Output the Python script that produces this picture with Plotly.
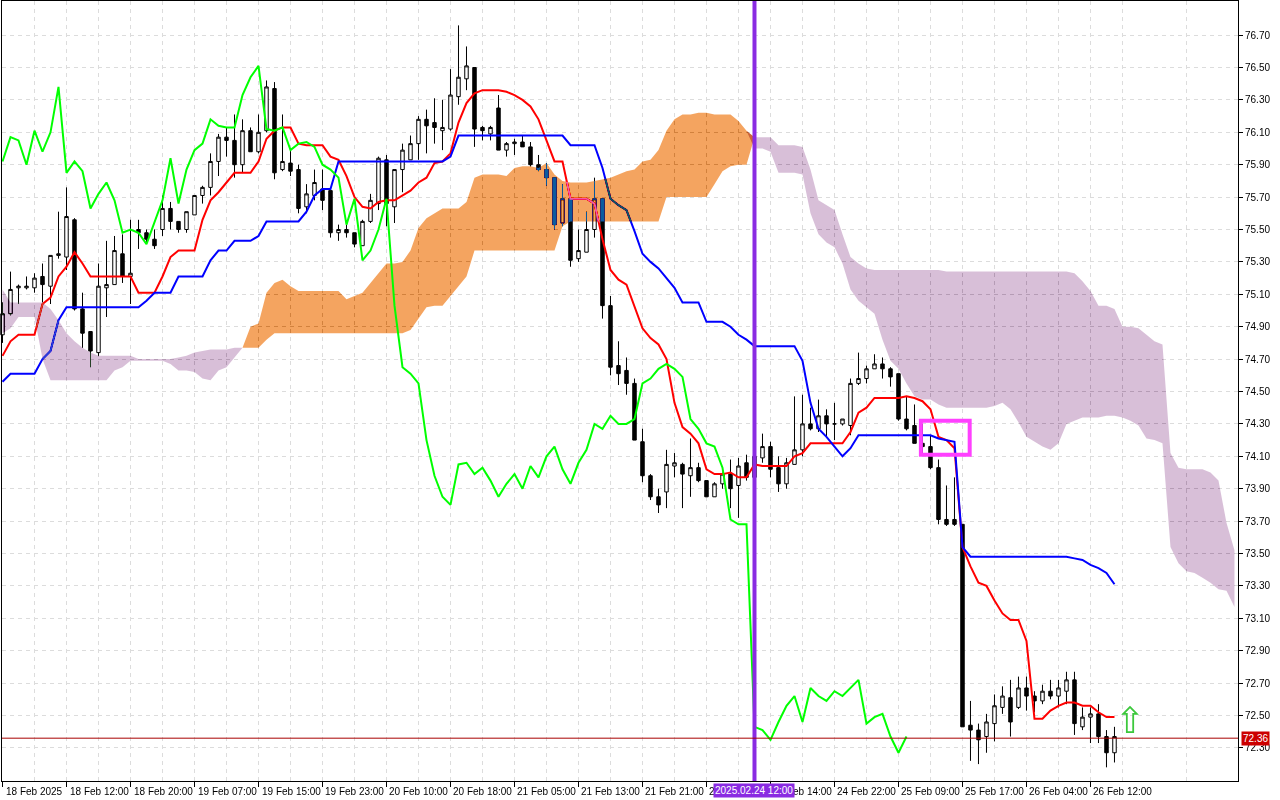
import plotly.graph_objects as go

# hourly bars, bar 0 = 18 Feb 2025 04:00 (x axis is the bar number)
opens = [
    74.85, 74.98, 75.14, 75.14, 75.14, 75.21, 75.15, 75.34, 75.33, 75.56,
    75.01, 74.87, 74.74, 75.14, 75.16, 75.35, 75.21, 75.50, 75.48, 75.44,
    75.50, 75.63, 75.55, 75.50, 75.59, 75.71, 75.76, 75.92, 76.07, 76.05,
    75.90, 76.11, 75.98, 76.11, 76.37, 75.87, 75.91, 75.87, 75.64, 75.71,
    75.75, 75.74, 75.48, 75.50, 75.48, 75.40, 75.55, 75.66, 75.93, 75.64,
    75.87, 75.93, 76.03, 76.18, 76.16, 76.11, 76.12, 76.32, 76.43, 76.50,
    76.13, 76.09, 76.25, 75.99, 76.03, 76.04, 76.01, 75.90, 75.87, 75.82,
    75.54, 75.69, 75.32, 75.36, 75.50, 75.69, 75.03, 74.66, 74.63, 74.55,
    74.19, 73.98, 73.85, 73.88, 74.04, 74.05, 73.98, 74.03, 73.95, 73.85,
    73.93, 73.99, 73.92, 74.06, 73.97, 74.09, 74.16, 74.03, 73.93, 74.05,
    74.14, 74.30, 74.27, 74.35, 74.30, 74.30, 74.29, 74.55, 74.58, 74.64,
    74.67, 74.64, 74.61, 74.33, 74.29, 74.18, 74.16, 74.03, 73.71, 73.71,
    73.68, 72.44, 72.41, 72.37, 72.45, 72.55, 72.61, 72.55, 72.67, 72.62,
    72.59, 72.65, 72.62, 72.65, 72.72, 72.43, 72.49, 72.51, 72.37, 72.27,
]
highs = [
    75.05, 75.24, 75.16, 75.21, 75.23, 75.29, 75.34, 75.61, 75.76, 75.57,
    75.11, 74.87, 75.29, 75.43, 75.46, 75.47, 75.56, 75.56, 75.50, 75.50,
    75.71, 75.67, 75.55, 75.61, 75.71, 75.77, 75.97, 76.09, 76.13, 76.21,
    76.18, 76.13, 76.21, 76.42, 76.41, 76.21, 75.99, 75.90, 75.78, 75.87,
    75.87, 75.74, 75.53, 75.53, 75.48, 75.56, 75.72, 75.95, 75.96, 75.87,
    76.03, 76.08, 76.20, 76.24, 76.31, 76.30, 76.49, 76.76, 76.63, 76.50,
    76.14, 76.14, 76.33, 76.04, 76.06, 76.08, 76.04, 75.96, 75.91, 75.82,
    75.78, 75.69, 75.50, 75.61, 75.82, 75.69, 75.09, 74.81, 74.71, 74.58,
    74.27, 73.99, 73.90, 74.14, 74.12, 74.06, 74.21, 74.06, 73.95, 73.94,
    74.00, 74.08, 74.09, 74.11, 74.15, 74.24, 74.19, 74.10, 74.09, 74.47,
    74.48, 74.40, 74.45, 74.39, 74.43, 74.33, 74.58, 74.74, 74.66, 74.73,
    74.71, 74.65, 74.61, 74.47, 74.42, 74.30, 74.23, 74.08, 73.92, 73.97,
    73.68, 72.59, 72.45, 72.51, 72.63, 72.68, 72.72, 72.74, 72.74, 72.65,
    72.69, 72.72, 72.72, 72.77, 72.77, 72.55, 72.55, 72.57, 72.41, 72.43,
]
lows = [
    74.80, 74.97, 75.04, 75.13, 75.11, 75.05, 75.04, 75.32, 75.25, 75.00,
    74.77, 74.65, 74.72, 74.96, 75.16, 75.17, 75.04, 75.38, 75.42, 75.38,
    75.46, 75.50, 75.48, 75.48, 75.59, 75.66, 75.71, 75.83, 75.95, 75.82,
    75.85, 75.98, 75.97, 76.10, 75.81, 75.86, 75.83, 75.60, 75.60, 75.68,
    75.62, 75.45, 75.43, 75.45, 75.39, 75.40, 75.54, 75.62, 75.52, 75.54,
    75.73, 75.93, 75.93, 75.97, 76.03, 75.99, 76.11, 76.27, 76.36, 76.01,
    76.05, 76.05, 75.99, 75.95, 75.96, 76.01, 75.89, 75.86, 75.77, 75.50,
    75.52, 75.27, 75.30, 75.36, 75.45, 74.95, 74.60, 74.54, 74.48, 74.20,
    73.94, 73.83, 73.75, 73.78, 73.97, 73.78, 73.85, 73.94, 73.85, 73.85,
    73.90, 73.78, 73.72, 73.95, 73.95, 74.06, 73.97, 73.88, 73.90, 74.05,
    74.10, 74.26, 74.25, 74.22, 74.20, 74.29, 74.23, 74.54, 74.55, 74.64,
    74.58, 74.53, 74.32, 74.26, 74.18, 74.12, 74.02, 73.68, 73.67, 73.67,
    72.43, 72.22, 72.20, 72.27, 72.34, 72.51, 72.37, 72.54, 72.53, 72.52,
    72.57, 72.60, 72.55, 72.57, 72.38, 72.41, 72.33, 72.33, 72.18, 72.21,
]
closes = [
    74.98, 75.13, 75.15, 75.15, 75.20, 75.16, 75.34, 75.35, 75.58, 75.01,
    74.86, 74.75, 75.15, 75.16, 75.37, 75.21, 75.23, 75.48, 75.44, 75.40,
    75.63, 75.55, 75.50, 75.61, 75.71, 75.76, 75.92, 76.07, 76.05, 75.90,
    76.11, 75.98, 76.10, 76.38, 75.85, 75.92, 75.86, 75.63, 75.72, 75.79,
    75.68, 75.48, 75.50, 75.48, 75.41, 75.55, 75.68, 75.94, 75.66, 75.87,
    75.99, 76.03, 76.18, 76.14, 76.13, 76.13, 76.33, 76.44, 76.51, 76.12,
    76.11, 76.13, 75.99, 76.03, 76.04, 76.01, 75.90, 75.87, 75.82, 75.53,
    75.69, 75.31, 75.37, 75.50, 75.69, 75.03, 74.65, 74.61, 74.55, 74.20,
    73.98, 73.85, 73.80, 74.05, 74.06, 73.99, 74.03, 73.95, 73.85, 73.93,
    73.99, 73.90, 74.04, 73.97, 74.10, 74.16, 74.02, 73.93, 74.06, 74.14,
    74.30, 74.27, 74.35, 74.30, 74.30, 74.33, 74.55, 74.58, 74.64, 74.67,
    74.64, 74.59, 74.33, 74.27, 74.18, 74.16, 74.03, 73.71, 73.68, 73.68,
    72.43, 72.41, 72.35, 72.46, 72.56, 72.62, 72.46, 72.67, 72.62, 72.59,
    72.65, 72.62, 72.67, 72.72, 72.45, 72.49, 72.51, 72.37, 72.27, 72.37,
]

tenkan = [
    74.72, 74.81, 74.85, 74.85, 74.85, 75.04, 75.08, 75.21, 75.27, 75.36,
    75.29, 75.21, 75.21, 75.21, 75.21, 75.21, 75.21, 75.11, 75.11, 75.11,
    75.21, 75.33, 75.37, 75.37, 75.37, 75.56, 75.68, 75.73, 75.79, 75.85,
    75.85, 75.85, 75.92, 76.06, 76.11, 76.13, 76.13, 76.03, 76.02, 76.02,
    76.02, 75.95, 75.93, 75.83, 75.70, 75.64, 75.63, 75.67, 75.68, 75.68,
    75.71, 75.74, 75.79, 75.82, 75.91, 75.92, 75.97, 76.16, 76.28, 76.34,
    76.36, 76.36, 76.36, 76.35, 76.33, 76.30, 76.26, 76.18, 76.05, 75.92,
    75.92, 75.69, 75.69, 75.69, 75.66, 75.44, 75.25, 75.19, 75.16, 75.02,
    74.89, 74.83, 74.79, 74.70, 74.43, 74.28, 74.24, 74.18, 74.02, 73.99,
    73.99, 74.00, 73.97, 73.97, 74.05, 74.04, 74.04, 74.04, 74.04, 74.10,
    74.12, 74.18, 74.18, 74.18, 74.18, 74.18, 74.25, 74.37, 74.40, 74.46,
    74.46, 74.46, 74.46, 74.47, 74.46, 74.44, 74.39, 74.22, 74.20, 74.15,
    73.54, 73.42, 73.32, 73.30, 73.21, 73.13, 73.09, 73.09, 72.96, 72.48,
    72.48, 72.53, 72.56, 72.58, 72.58, 72.56, 72.56, 72.52, 72.49, 72.49,
]
kijun = [
    74.56, 74.61, 74.61, 74.61, 74.61, 74.70, 74.75, 74.94, 75.02, 75.02,
    75.02, 75.02, 75.02, 75.02, 75.02, 75.02, 75.02, 75.02, 75.06, 75.11,
    75.11, 75.11, 75.21, 75.21, 75.21, 75.21, 75.31, 75.37, 75.37, 75.43,
    75.43, 75.43, 75.46, 75.55, 75.55, 75.55, 75.55, 75.55, 75.61, 75.71,
    75.75, 75.75, 75.92, 75.92, 75.92, 75.92, 75.92, 75.92, 75.92, 75.92,
    75.92, 75.92, 75.92, 75.92, 75.92, 75.92, 75.95, 76.08, 76.08, 76.08,
    76.08, 76.08, 76.08, 76.08, 76.08, 76.08, 76.08, 76.08, 76.08, 76.08,
    76.08, 76.02, 76.02, 76.02, 76.02, 75.88, 75.69, 75.65, 75.62, 75.49,
    75.35, 75.30, 75.26, 75.20, 75.14, 75.05, 75.05, 75.05, 74.93, 74.93,
    74.93, 74.90, 74.85, 74.82, 74.78, 74.78, 74.78, 74.78, 74.78, 74.78,
    74.69, 74.43, 74.27, 74.22, 74.16, 74.10, 74.15, 74.23, 74.23, 74.23,
    74.23, 74.23, 74.23, 74.23, 74.23, 74.23, 74.23, 74.21, 74.20, 74.19,
    73.54, 73.48, 73.48, 73.48, 73.48, 73.48, 73.48, 73.48, 73.48, 73.48,
    73.48, 73.48, 73.48, 73.48, 73.47, 73.46, 73.43, 73.41, 73.38, 73.31,
]

# senkou spans as plotted (already shifted 26 bars ahead), bars 0..154
span_a = [
    74.86, 74.89, 74.96, 74.96, 74.96, 74.70, 74.57, 74.57, 74.57, 74.57,
    74.57, 74.57, 74.57, 74.57, 74.63, 74.65, 74.69, 74.69, 74.69, 74.69,
    74.69, 74.67, 74.63, 74.63, 74.62, 74.58, 74.57, 74.63, 74.65, 74.71,
    74.77, 74.90, 74.92, 75.11, 75.17, 75.19, 75.15, 75.12, 75.12, 75.12,
    75.12, 75.12, 75.12, 75.07, 75.09, 75.11, 75.17, 75.23, 75.29, 75.29,
    75.30, 75.37, 75.51, 75.57, 75.60, 75.63, 75.63, 75.63, 75.67, 75.82,
    75.84, 75.84, 75.84, 75.83, 75.88, 75.89, 75.89, 75.88, 75.91, 75.84,
    75.80, 75.79, 75.79, 75.79, 75.80, 75.81, 75.82, 75.84, 75.86, 75.87,
    75.92, 75.93, 75.99, 76.11, 76.18, 76.21, 76.21, 76.22, 76.22, 76.21,
    76.21, 76.21, 76.17, 76.11, 76.00, 76.00, 75.98, 75.85, 75.85, 75.85,
    75.84, 75.60, 75.47, 75.42, 75.39, 75.29, 75.13, 75.06, 75.02, 74.98,
    74.82, 74.69, 74.64, 74.55, 74.47, 74.45, 74.45, 74.42, 74.40, 74.40,
    74.40, 74.40, 74.40, 74.40, 74.41, 74.43, 74.39, 74.31, 74.22, 74.19,
    74.16, 74.14, 74.18, 74.30, 74.32, 74.34, 74.34, 74.34, 74.35, 74.35,
    74.34, 74.32, 74.29, 74.21, 74.20, 74.18, 73.54, 73.44, 73.39, 73.38,
    73.35, 73.32, 73.28, 73.27, 73.17,
]
span_b = [
    75.13, 75.05, 75.05, 75.05, 75.05, 75.05, 75.01, 74.94, 74.86, 74.81,
    74.77, 74.74, 74.72, 74.72, 74.72, 74.72, 74.72, 74.70, 74.70, 74.70,
    74.70, 74.70, 74.71, 74.72, 74.74, 74.75, 74.76, 74.76, 74.76, 74.77,
    74.77, 74.77, 74.77, 74.82, 74.86, 74.86, 74.86, 74.86, 74.86, 74.86,
    74.86, 74.86, 74.86, 74.86, 74.86, 74.86, 74.86, 74.86, 74.86, 74.86,
    74.86, 74.88, 74.95, 75.02, 75.03, 75.03, 75.09, 75.15, 75.21, 75.37,
    75.37, 75.37, 75.37, 75.37, 75.37, 75.37, 75.37, 75.37, 75.37, 75.37,
    75.52, 75.55, 75.55, 75.55, 75.55, 75.55, 75.55, 75.55, 75.55, 75.55,
    75.55, 75.55, 75.55, 75.70, 75.70, 75.70, 75.70, 75.70, 75.70, 75.78,
    75.86, 75.89, 75.90, 75.90, 76.07, 76.07, 76.07, 76.02, 76.02, 76.02,
    76.01, 75.87, 75.68, 75.65, 75.62, 75.47, 75.33, 75.29, 75.26, 75.25,
    75.25, 75.25, 75.25, 75.25, 75.25, 75.25, 75.25, 75.25, 75.24, 75.24,
    75.24, 75.24, 75.24, 75.24, 75.24, 75.24, 75.24, 75.24, 75.24, 75.24,
    75.24, 75.24, 75.24, 75.24, 75.23, 75.18, 75.12, 75.03, 75.03, 75.01,
    74.90, 74.90, 74.89, 74.85, 74.81, 74.79, 74.12, 74.03, 74.02, 74.02,
    74.02, 74.00, 73.95, 73.69, 73.52,
]
chikou_shift = 26

label_bars = [0, 8, 16, 24, 32, 40, 48, 56, 64, 72, 80, 88, 96, 104, 112, 120, 128, 136]
label_texts = [
    "18 Feb 2025", "18 Feb 12:00", "18 Feb 20:00", "19 Feb 07:00", "19 Feb 15:00",
    "19 Feb 23:00", "20 Feb 10:00", "20 Feb 18:00", "21 Feb 05:00", "21 Feb 13:00",
    "21 Feb 21:00", "24 Feb 06:00", "24 Feb 14:00", "24 Feb 22:00", "25 Feb 09:00",
    "25 Feb 17:00", "26 Feb 04:00", "26 Feb 12:00",
]
price_ticks = [72.30, 72.50, 72.70, 72.90, 73.10, 73.30, 73.50, 73.70, 73.90, 74.10,
               74.30, 74.50, 74.70, 74.90, 75.10, 75.30, 75.50, 75.70, 75.90, 76.10,
               76.30, 76.50, 76.70]

marker_bar = 94
marker_text = "2025.02.24 12:00"
bid_price = 72.36
box_bars = (114.8, 120.9)
box_prices = (74.11, 74.32)
signal_bar = 141
signal_price = 72.47

bars = list(range(len(closes)))
cloud_bars = list(range(len(span_a)))
cloud_top = [max(a, b) for a, b in zip(span_a, span_b)]

fig = go.Figure()

fig.add_trace(go.Candlestick(
    x=bars, open=opens, high=highs, low=lows, close=closes,
    increasing=dict(line=dict(color="black", width=1), fillcolor="white"),
    decreasing=dict(line=dict(color="black", width=1), fillcolor="black"),
    whiskerwidth=0, hoverinfo="skip",
))
fig.add_trace(go.Scatter(x=bars, y=tenkan, mode="lines", line=dict(color="#ff0000", width=2)))
fig.add_trace(go.Scatter(x=bars, y=kijun, mode="lines", line=dict(color="#0000ff", width=2)))

# cloud: fills use inverted colours and are blended with "difference" (see post script),
# so they look sandybrown / thistle on white and tint the candles and lines underneath
fig.add_trace(go.Scatter(x=cloud_bars, y=span_b, mode="lines", line=dict(width=0), hoverinfo="skip"))
fig.add_trace(go.Scatter(x=cloud_bars, y=cloud_top, mode="lines", line=dict(width=0),
                         fill="tonexty", fillcolor="#0b5b9f", hoverinfo="skip"))
fig.add_trace(go.Scatter(x=cloud_bars, y=span_a, mode="lines", line=dict(width=0), hoverinfo="skip"))
fig.add_trace(go.Scatter(x=cloud_bars, y=cloud_top, mode="lines", line=dict(width=0),
                         fill="tonexty", fillcolor="#274027", hoverinfo="skip"))

fig.add_trace(go.Scatter(x=[b - chikou_shift for b in bars[chikou_shift:]], y=closes[chikou_shift:],
                         mode="lines", line=dict(color="#00ff00", width=2)))

grid = "#dcdcdc"
fig.update_layout(
    width=1280, height=800,
    margin=dict(l=2, r=42, t=1, b=19),
    paper_bgcolor="white", plot_bgcolor="white",
    showlegend=False, boxgap=0.38,
    font=dict(family="Liberation Sans, Arial, sans-serif", size=10, color="black"),
    xaxis=dict(
        range=[-0.0625, 154.44], rangeslider=dict(visible=False),
        tickvals=label_bars, showticklabels=False, ticks="outside", ticklen=5, tickcolor="black",
        showgrid=True, gridcolor=grid, griddash="4px,4px",
        minor=dict(tickvals=list(range(4, 155, 8)), showgrid=True, gridcolor=grid, griddash="4px,4px"),
        showline=True, linecolor="black", linewidth=1, mirror=True, zeroline=False,
    ),
    yaxis=dict(
        side="right", range=[72.0957, 76.9105],
        tickvals=price_ticks, tickformat=".2f", ticks="outside", ticklen=4, tickcolor="black",
        showgrid=True, gridcolor=grid, griddash="4px,4px",
        showline=True, linecolor="black", linewidth=1, mirror=True, zeroline=False,
    ),
)

fig.add_shape(type="line", x0=marker_bar, x1=marker_bar, yref="paper", y0=0, y1=1,
              line=dict(color="#8a2be2", width=4), layer="above")
fig.add_shape(type="line", xref="paper", x0=0, x1=1, y0=bid_price, y1=bid_price,
              line=dict(color="#a80000", width=1), layer="above")
fig.add_shape(type="rect", x0=box_bars[0], x1=box_bars[1], y0=box_prices[0], y1=box_prices[1],
              line=dict(color="#ff40ff", width=4), layer="above")

for b, t in zip(label_bars, label_texts):
    fig.add_annotation(x=b, y=0, yref="paper", text=t, showarrow=False,
                       xanchor="left", yanchor="top", xshift=1, yshift=-3,
                       font=dict(size=10, color="black"))
fig.add_annotation(x=marker_bar, y=0, yref="paper", text=marker_text, showarrow=False,
                   xanchor="center", yanchor="top", yshift=-2, bgcolor="#8a2be2", borderpad=1,
                   font=dict(size=10, color="white"))
fig.add_annotation(x=1, xref="paper", y=bid_price, text=f"{bid_price:.2f}", showarrow=False,
                   xanchor="left", xshift=3, bgcolor="#cc0000", borderpad=1,
                   font=dict(size=10, color="white"))
fig.add_annotation(x=signal_bar, y=signal_price, text="\u21e7", showarrow=False,
                   font=dict(family="DejaVu Sans", size=36, color="#3cc83c"))

# page margin off; give the svg a white backdrop and strip clipping from every
# ancestor of the cloud fills so the "difference" blend reaches the background
blend_js = """
document.body.style.margin = '0';
var gd = document.getElementById('{plot_id}');
function blendCloud() {
  var svg = gd.querySelector('svg.main-svg');
  if (svg && !svg.querySelector('rect.cloud-backdrop')) {
    var r = document.createElementNS('http://www.w3.org/2000/svg', 'rect');
    r.setAttribute('class', 'cloud-backdrop');
    r.setAttribute('x', '0');
    r.setAttribute('y', '0');
    r.setAttribute('width', '1280');
    r.setAttribute('height', '800');
    r.setAttribute('fill', '#ffffff');
    svg.insertBefore(r, svg.firstChild);
  }
  gd.querySelectorAll('.scatterlayer path.js-fill').forEach(function (p) {
    p.style.mixBlendMode = 'difference';
    var el = p.parentNode;
    while (el && el !== svg && el.nodeType === 1) {
      if (el.hasAttribute('clip-path')) el.removeAttribute('clip-path');
      if (el.hasAttribute('opacity')) el.removeAttribute('opacity');
      el.style.clipPath = 'none';
      el.style.opacity = '';
      el.style.isolation = 'auto';
      el = el.parentNode;
    }
  });
}
blendCloud();
gd.on('plotly_afterplot', blendCloud);
"""

fig.write_html("out.html", post_script=blend_js, config={"displayModeBar": False})
